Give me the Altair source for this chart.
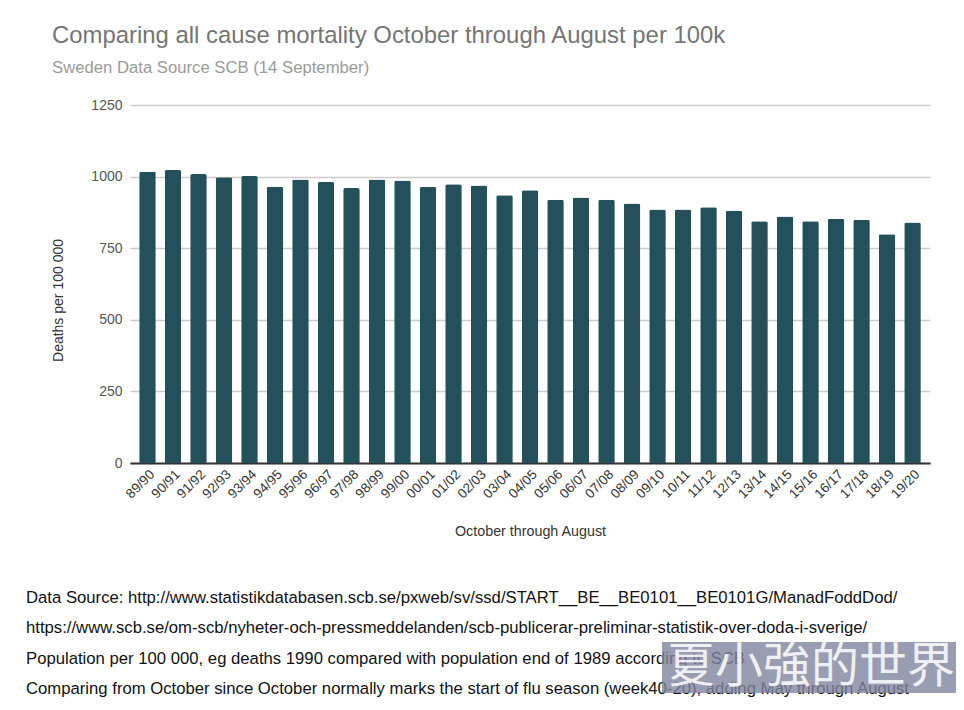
import altair as alt
import pandas as pd

seasons = ["89/90", "90/91", "91/92", "92/93", "93/94", "94/95", "95/96", "96/97",
           "97/98", "98/99", "99/00", "00/01", "01/02", "02/03", "03/04", "04/05",
           "05/06", "06/07", "07/08", "08/09", "09/10", "10/11", "11/12", "12/13",
           "13/14", "14/15", "15/16", "16/17", "17/18", "18/19", "19/20"]
deaths = [1017, 1023, 1009, 998, 1002, 964, 990, 981, 960, 990, 986, 964, 973,
          969, 935, 952, 919, 927, 919, 906, 885, 885, 893, 881, 844, 861, 844,
          853, 849, 799, 840]
y_ticks = [0, 250, 500, 750, 1000, 1250]

title_text = "Comparing all cause mortality October through August per 100k"
subtitle_text = "Sweden Data Source SCB (14 September)"
footer_lines = [
    "Data Source: http://www.statistikdatabasen.scb.se/pxweb/sv/ssd/START__BE__BE0101__BE0101G/ManadFoddDod/",
    "https://www.scb.se/om-scb/nyheter-och-pressmeddelanden/scb-publicerar-preliminar-statistik-over-doda-i-sverige/",
    "Population per 100 000, eg deaths 1990 compared with population end of 1989 according to SCB",
    "Comparing from October since October normally marks the start of flu season (week40-20), adding May through August",
]
watermark = "夏小強的世界"

df = pd.DataFrame({"season": seasons, "deaths": deaths})

FONT = "Liberation Sans"

bars = alt.Chart(df).mark_bar(
    color="#24505c", cornerRadiusTopLeft=2, cornerRadiusTopRight=2
).encode(
    x=alt.X("season:N", sort=seasons,
            scale=alt.Scale(paddingInner=0.35, paddingOuter=0.36),
            axis=alt.Axis(title="October through August", labelAngle=-45,
                          labelFontSize=13.5, labelColor="#333", labelPadding=4,
                          ticks=False, domainColor="#333", domainWidth=2,
                          titleFontSize=14.3, titleColor="#333", titleFontWeight="normal",
                          titleY=68, titleBaseline="middle", titleFont=FONT, labelFont=FONT)),
    y=alt.Y("deaths:Q", scale=alt.Scale(domain=[0, 1250]),
            axis=alt.Axis(title="Deaths per 100 000", values=y_ticks, ticks=False,
                          format="d",
                          domain=False, gridColor="#cccccc", gridWidth=1.5,
                          labelFontSize=14, labelColor="#555", labelPadding=8,
                          titleFontSize=14, titleColor="#333", titleFontWeight="normal",
                          titleX=-72, titleY=195, titleAngle=270, titleBaseline="middle",
                          titleFont=FONT, labelFont=FONT)),
)

def text_layer(txt, x, y, size, color, align="left", font=FONT, opacity=1.0, weight="normal"):
    return alt.Chart(pd.DataFrame({"t": [txt]})).mark_text(
        align=align, baseline="middle", fontSize=size, color=color, font=font,
        opacity=opacity, fontWeight=weight
    ).encode(text="t:N", x=alt.value(x), y=alt.value(y))

layers = [bars]
layers.append(text_layer(title_text, -78, -69, 23.9, "#757575"))
layers.append(text_layer(subtitle_text, -78, -37, 16.7, "#9a9a9a"))
for i, (line, yy) in enumerate(zip(footer_lines, [493, 523, 554, 584])):
    layers.append(text_layer(line, -104, yy, 16.7, "#111"))

wm_box = alt.Chart(pd.DataFrame({"t": [watermark]})).mark_rect(
    color="#7f849e", opacity=0.8
).encode(x=alt.value(532), x2=alt.value(830), y=alt.value(537), y2=alt.value(588))
layers.append(wm_box)
layers.append(text_layer(watermark, 681, 563, 48, "#ffffff", align="center",
                         font="Noto Sans CJK TC", opacity=0.85))

chart = alt.layer(*layers).properties(
    width=800, height=358,
    background="white",
    autosize=alt.AutoSizeParams(type="none"),
    padding={"left": 122, "top": 97, "right": 26, "bottom": 239},
).configure_view(stroke=None)

chart.save("out.html", embed_options={"renderer": "svg", "actions": False})
